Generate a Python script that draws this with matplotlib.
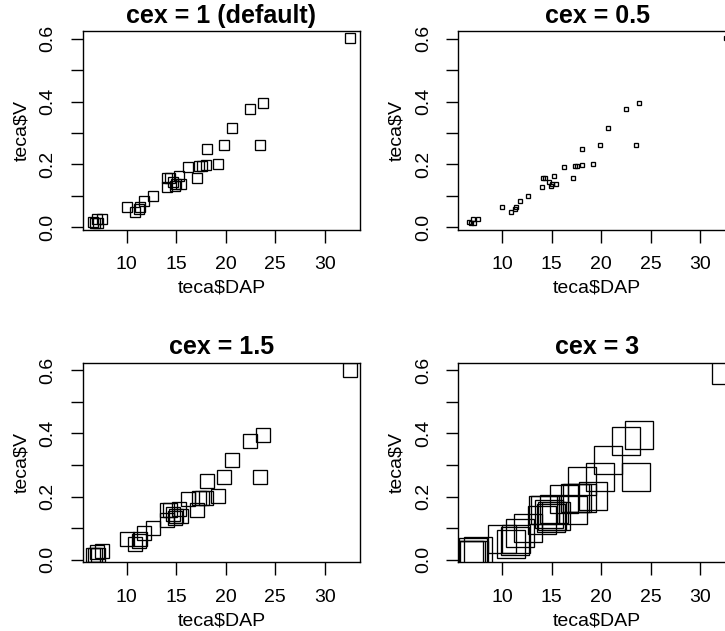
import numpy as np
import matplotlib
matplotlib.use('Agg')
import matplotlib.pyplot as plt

# teca data: diameter (DAP) and volume (V)
dap = [6.6, 6.85, 7.05, 7.1, 7.55, 10.0, 10.85, 11.25, 11.35, 11.75, 12.65,
       14.05, 14.1, 14.35, 14.7, 14.9, 15.0, 15.25, 15.45, 16.2, 17.1, 17.35,
       17.6, 18.05, 18.1, 19.2, 19.85, 20.65, 22.5, 23.5, 23.8, 32.55]
vol = [0.016, 0.015, 0.025, 0.015, 0.028, 0.065, 0.049, 0.058, 0.066, 0.083, 0.100,
       0.127, 0.157, 0.156, 0.144, 0.133, 0.138, 0.162, 0.139, 0.192, 0.157, 0.195,
       0.195, 0.197, 0.249, 0.203, 0.262, 0.316, 0.376, 0.262, 0.395, 0.601]

cex_values = [1, 0.5, 1.5, 3]
titles = ['cex = 1 (default)', 'cex = 0.5', 'cex = 1.5', 'cex = 3']

xticks = [10, 15, 20, 25, 30]
yticks = [0.0, 0.1, 0.2, 0.3, 0.4, 0.5, 0.6]
ytick_labels = ['0.0', '', '0.2', '', '0.4', '', '0.6']

plt.rcParams['font.family'] = ['Liberation Sans', 'DejaVu Sans']

W, H = 725, 631
fig = plt.figure(figsize=(W / 100, H / 100), dpi=100)

# panel boxes in pixels: left, top, width, height (right column runs past the edge)
boxes = [(82.7, 31, 277.5, 199), (458.3, 31, 277.5, 199),
         (82.7, 362.7, 277.5, 199.6), (458.3, 362.7, 277.5, 199.6)]

# R style axis ranges: data range padded by 4%
x = np.array(dap)
y = np.array(vol)
xpad = 0.04 * (x.max() - x.min())
ypad = 0.04 * (y.max() - y.min())

for (l, t, w, h), cex, title in zip(boxes, cex_values, titles):
    ax = fig.add_axes([l / W, 1 - (t + h) / H, w / W, h / H])
    ax.plot(dap, vol, linestyle='none', marker='s', ms=6.7 * cex,
            mfc='none', mec='black', mew=0.95)
    ax.set_xlim(x.min() - xpad, x.max() + xpad)
    ax.set_ylim(y.min() - ypad, y.max() + ypad)
    ax.set_xticks(xticks)
    ax.set_xticklabels([str(v) for v in xticks])
    ax.set_yticks(yticks)
    ax.set_yticklabels(ytick_labels, rotation=90, va='center')
    ax.tick_params(axis='both', direction='out', length=9, width=1,
                   labelsize=14, pad=10)
    for sp in ax.spines.values():
        sp.set_linewidth(1.0)
    ax.set_title(title, fontsize=18, fontweight='bold', pad=6)
    ax.set_xlabel('teca$DAP', fontsize=14)
    ax.set_ylabel('teca$V', fontsize=14)
    ax.xaxis.set_label_coords(0.5, -0.251)
    ax.yaxis.set_label_coords(-0.19, 0.5)

fig.savefig('out.png', dpi=100)
